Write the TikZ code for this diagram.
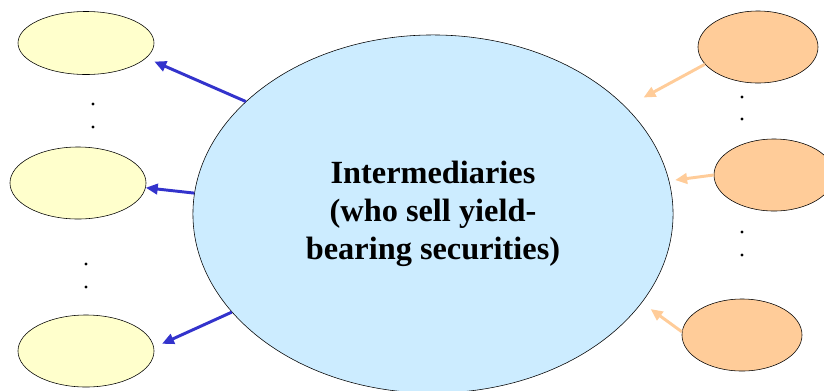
\documentclass[tikz,border=0pt]{standalone}
\usepackage{fontspec}
\setmainfont{Liberation Serif}
\usetikzlibrary{shapes.geometric,arrows.meta}
\definecolor{skyfill}{HTML}{CCECFF}
\definecolor{lemonfill}{HTML}{FFFFCC}
\definecolor{peachfill}{HTML}{FFCC99}
\definecolor{sellblue}{HTML}{3333CC}
\definecolor{buypeach}{HTML}{FFCC99}
\begin{document}
\begin{tikzpicture}[x=0.025cm,y=-0.025cm,
  pool/.style={ellipse,draw,thin,inner sep=0pt},
  lender/.style={pool,fill=lemonfill,minimum width=3.4cm},
  saver/.style={pool,fill=peachfill,minimum width=3cm,minimum height=1.8cm},
  outarrow/.style={draw=sellblue,line width=2.1pt,-{Triangle[length=0.3cm,width=0.26cm]}},
  inarrow/.style={draw=buypeach,line width=2.1pt,-{Triangle[length=0.3cm,width=0.26cm]}}]
\useasboundingbox (0,0) rectangle (824,390);
\node[pool,fill=skyfill,minimum width=12cm,minimum height=8.95cm,align=center,
  font=\fontsize{23}{27}\selectfont\bfseries] (inter) at (433,214)
  {Intermediaries\\(who sell yield-\\bearing securities)};
\node[lender,minimum height=1.575cm] (lt) at (86,43) {};
\node[lender,minimum height=1.8cm] (lm) at (78,183) {};
\node[lender,minimum height=1.8cm] (lb) at (86,351) {};
\node[saver] (rt) at (758,47) {};
\node[saver] (rm) at (774,175) {};
\node[saver] (rb) at (742,335) {};
\foreach \x/\y in {93/104,93/127,86/264,86/287,742/97,742/119,742/232,742/255}
  \fill (\x,\y) circle (1.6);
\draw[outarrow,shorten >=0.22cm] (inter.149)--(lt.-14);
\draw[outarrow] (inter.175.5)--(lm.-4);
\draw[outarrow,shorten >=0.22cm] (inter.206)--(lb.3);
\draw[inarrow,shorten >=0.5cm] (rt.198)--(inter.29);
\draw[inarrow,shorten >=0.15cm] (rm.180)--(inter.8);
\draw[inarrow,shorten >=0.27cm] (rb.177)--(inter.-23);
\end{tikzpicture}
\end{document}
